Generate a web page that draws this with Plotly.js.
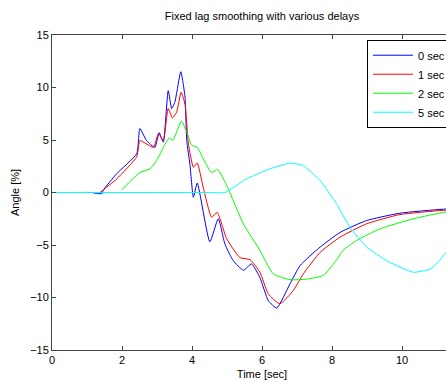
<!DOCTYPE html>
<html>
<head>
<meta charset="utf-8">
<script src="https://cdn.plot.ly/plotly-3.0.1.min.js"></script>
<style>
html,body{margin:0;padding:0;overflow:hidden;background:#fff;width:446px;height:383px;}
#chart{width:520px;height:383px;}
</style>
</head>
<body>
<div id="chart"></div>
<script>
const seriesNames = ['0 sec', '1 sec', '2 sec', '5 sec'];
const seriesColors = ['#0000ff', '#ff0000', '#00ff00', '#00ffff'];

const t0 = [0.75, 1.13, 1.3, 1.43, 1.46, 1.85, 2.42, 2.51, 2.7, 2.94, 3.06, 3.18, 3.32, 3.42, 3.51, 3.68, 3.8, 3.85, 3.94, 4.04, 4.15, 4.51, 4.75, 4.94, 5.18, 5.47, 5.7, 5.94, 6.18, 6.42, 6.8, 7.09, 7.66, 8.23, 8.99, 9.94, 11.18, 12];
const y0 = [0, 0, -0.1, -0.1, 0.2, 1.8, 3.7, 6.1, 4.95, 4.3, 5.7, 4.8, 9.7, 8.0, 8.6, 11.5, 9.1, 4.95, 2.7, -0.45, 0.9, -4.7, -2.5, -4.9, -6.5, -7.4, -6.8, -8.1, -10.3, -11.0, -8.7, -6.95, -5.2, -3.8, -2.67, -1.97, -1.59, -1.5];

const t1 = [1.37, 1.85, 2.42, 2.51, 2.66, 2.9, 3.04, 3.18, 3.32, 3.44, 3.56, 3.69, 3.8, 3.9, 4.04, 4.15, 4.32, 4.56, 4.72, 4.99, 5.37, 5.66, 5.94, 6.18, 6.51, 6.9, 7.18, 7.66, 8.23, 8.99, 9.94, 11.18, 12];
const y1 = [0, 1.3, 3.4, 4.95, 4.7, 4.3, 5.6, 4.95, 8.0, 7.1, 7.65, 9.55, 8.4, 4.6, 2.4, 2.8, 0.5, -2.35, -1.9, -4.4, -6.2, -6.4, -7.6, -9.65, -10.6, -9.3, -7.75, -5.7, -4.25, -2.98, -2.1, -1.7, -1.6];

const t2 = [1.99, 2.51, 2.8, 2.99, 3.23, 3.35, 3.45, 3.7, 3.85, 3.99, 4.15, 4.37, 4.56, 4.73, 4.99, 5.47, 5.94, 6.32, 6.8, 7.28, 7.75, 8.09, 8.32, 8.7, 9.37, 10.33, 11.23, 12];
const y2 = [0.25, 1.9, 2.25, 3.05, 4.6, 5.2, 4.95, 6.8, 5.75, 4.5, 4.3, 2.9, 1.9, 2.2, 0.67, -3.0, -5.5, -7.75, -8.3, -8.25, -7.9, -6.6, -5.5, -4.57, -3.46, -2.5, -1.87, -1.7];

const t5 = [0, 1, 2, 3, 4, 4.5, 4.94, 5.56, 6.13, 6.8, 7.18, 7.66, 8.13, 8.51, 8.99, 9.56, 10.33, 10.8, 11.04, 11.26, 11.6];
const y5 = [0, 0, 0, 0, 0, 0, 0, 1.3, 2.15, 2.8, 2.57, 1.14, -1.08, -3.3, -5.2, -6.5, -7.6, -7.3, -6.6, -5.7, -4.0];

const xTicks = [0, 2, 4, 6, 8, 10];
const yTicks = [-15, -10, -5, 0, 5, 10, 15];

const xs = [t0, t1, t2, t5];
const ys = [y0, y1, y2, y5];

const traces = xs.map((x, i) => ({
  x: x, y: ys[i], type: 'scatter', mode: 'lines', name: seriesNames[i],
  line: {color: seriesColors[i], width: 1, shape: i === 3 ? 'linear' : 'spline', smoothing: 0.5}
}));
// smooth the cyan curve after its flat part only
traces[3].line.shape = 'spline';
traces[3].line.smoothing = 0.4;

const font = {family: 'Liberation Sans, Arial, sans-serif', size: 11, color: '#000'};
const layout = {
  width: 520, height: 383,
  margin: {l: 52, r: 48, t: 35, b: 33},
  paper_bgcolor: '#fff', plot_bgcolor: '#fff',
  font: font,
  showlegend: true,
  title: {text: 'Fixed lag smoothing with various delays', font: {size: 11, family: font.family}, x: 0.5, xref: 'paper', y: 1, yref: 'container', yanchor: 'top', pad: {t: 12}},
  xaxis: {
    range: [0, 12], tickvals: xTicks, ticks: 'inside', ticklen: 4, tickcolor: '#444',
    showline: true, linecolor: '#444', linewidth: 1, mirror: 'ticks', showgrid: false, zeroline: false,
    title: {text: 'Time [sec]', standoff: 5, font: {size: 11}}, tickfont: {size: 11}
  },
  yaxis: {
    range: [-15, 15], tickvals: yTicks, ticks: 'inside', ticklen: 4, tickcolor: '#444',
    showline: true, linecolor: '#444', linewidth: 1, mirror: 'ticks', showgrid: false, zeroline: false,
    title: {text: 'Angle [%]', standoff: 8, font: {size: 11}}, tickfont: {size: 11}
  },
  legend: {
    x: 0.75, y: 0.985, xanchor: 'left', yanchor: 'top', bgcolor: '#fff', bordercolor: '#000', borderwidth: 1,
    font: {size: 11}, itemwidth: 40, tracegroupgap: 0
  }
};

Plotly.newPlot('chart', traces, layout, {staticPlot: true});
</script>
</body>
</html>
